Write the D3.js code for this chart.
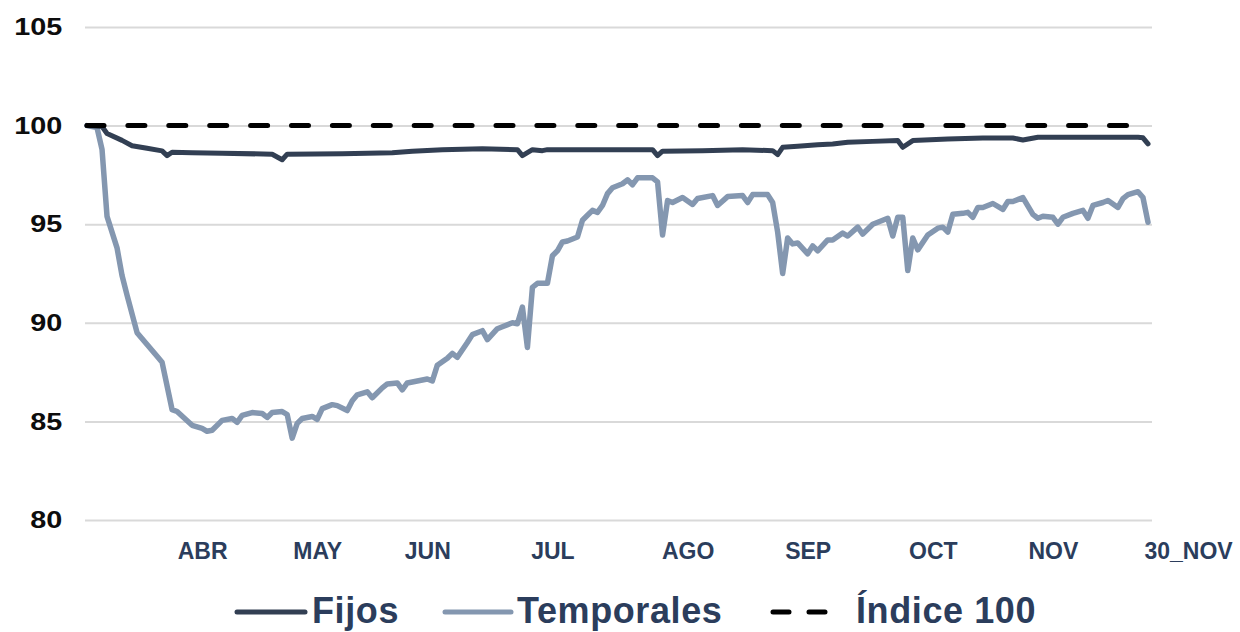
<!DOCTYPE html>
<html>
<head>
<meta charset="utf-8">
<script src="https://cdn.jsdelivr.net/npm/d3@7"></script>
<style>
  html, body { margin: 0; padding: 0; background: #ffffff; }
  svg { display: block; }
</style>
</head>
<body>
<svg id="chart" width="1240" height="632"></svg>
<script>
// ---- data ----
const tickDays = [23, 46, 68, 93, 120, 144, 169, 193, 220];
const tickLabels = ["ABR", "MAY", "JUN", "JUL", "AGO", "SEP", "OCT", "NOV", "30_NOV"];
const yTicks = [80, 85, 90, 95, 100, 105];

const fijosDays = [0, 3, 4, 7, 9, 12, 15, 16, 17, 21, 27, 37, 39, 40, 51, 61, 65, 71, 79, 86, 87, 89, 91, 92, 113, 114, 115, 123, 131, 137, 138, 139, 142, 146, 149, 152, 157, 162, 163, 165, 172, 179, 185, 187, 190, 210, 211, 212];
const fijosVals = [100, 99.95, 99.6, 99.25, 98.98, 98.85, 98.72, 98.48, 98.65, 98.62, 98.6, 98.55, 98.27, 98.55, 98.57, 98.62, 98.7, 98.77, 98.82, 98.78, 98.48, 98.78, 98.73, 98.78, 98.78, 98.48, 98.7, 98.73, 98.77, 98.73, 98.53, 98.9, 98.95, 99.03, 99.07, 99.16, 99.2, 99.24, 98.9, 99.24, 99.32, 99.37, 99.37, 99.27, 99.41, 99.41, 99.38, 99.07];

const tempDays = [0, 2, 3, 4, 6, 7, 8, 10, 12, 14, 15, 16, 17, 18, 21, 23, 24, 25, 27, 29, 30, 31, 33, 35, 36, 37, 39, 40, 41, 42, 43, 45, 46, 47, 49, 50, 52, 53, 54, 56, 57, 59, 60, 62, 63, 64, 66, 68, 69, 70, 72, 73, 74, 76, 77, 79, 80, 82, 83, 85, 86, 87, 88, 89, 90, 92, 93, 94, 95, 96, 98, 99, 100, 101, 102, 103, 104, 105, 107, 108, 109, 110, 112, 113, 114, 115, 116, 117, 119, 121, 122, 125, 126, 128, 131, 132, 133, 136, 137, 138, 139, 140, 141, 142, 144, 145, 146, 148, 149, 151, 152, 154, 155, 157, 160, 161, 162, 163, 164, 165, 166, 168, 170, 171, 172, 173, 175, 176, 177, 178, 179, 181, 183, 184, 185, 187, 189, 190, 191, 193, 194, 195, 197, 199, 200, 201, 203, 204, 206, 207, 208, 210, 211, 212];
const tempVals = [100, 99.9, 98.8, 95.4, 93.8, 92.4, 91.4, 89.5, 88.9, 88.3, 88.0, 86.8, 85.6, 85.5, 84.8, 84.65, 84.5, 84.55, 85.05, 85.15, 84.95, 85.3, 85.45, 85.4, 85.2, 85.45, 85.5, 85.35, 84.15, 84.9, 85.15, 85.25, 85.1, 85.65, 85.85, 85.8, 85.55, 86.05, 86.35, 86.5, 86.2, 86.7, 86.9, 86.95, 86.6, 86.95, 87.05, 87.15, 87.05, 87.85, 88.2, 88.45, 88.25, 89.0, 89.4, 89.6, 89.15, 89.7, 89.8, 90.0, 89.95, 90.8, 88.75, 91.8, 92.0, 92.0, 93.4, 93.65, 94.1, 94.15, 94.35, 95.2, 95.45, 95.7, 95.6, 95.95, 96.55, 96.85, 97.05, 97.25, 97.0, 97.35, 97.35, 97.35, 97.15, 94.45, 96.2, 96.1, 96.35, 96.0, 96.3, 96.45, 95.95, 96.4, 96.45, 96.1, 96.5, 96.5, 96.1, 94.6, 92.5, 94.3, 94.0, 94.05, 93.5, 93.9, 93.65, 94.2, 94.2, 94.55, 94.4, 94.85, 94.5, 95.0, 95.3, 94.4, 95.35, 95.35, 92.65, 94.3, 93.7, 94.45, 94.8, 94.85, 94.6, 95.5, 95.55, 95.6, 95.35, 95.85, 95.85, 96.05, 95.75, 96.15, 96.15, 96.35, 95.5, 95.3, 95.4, 95.35, 95.0, 95.35, 95.55, 95.7, 95.3, 95.95, 96.1, 96.2, 95.85, 96.3, 96.5, 96.65, 96.35, 95.1];

const indexDays = [0, 212];
const indexVals = [100, 100];

const seriesNames = ["Fijos", "Temporales", "Índice 100"];

// ---- layout ----
const svg = d3.select("#chart");
const plotLeft = 85, plotRight = 1152, plotTop = 27, plotBottom = 520;
const FONT = "'Liberation Sans', Arial, sans-serif";

const x = d3.scaleLinear().domain([0, 212]).range([87, 1148]);
const y = d3.scaleLinear().domain([80, 105]).range([plotBottom, plotTop]);

// y axis + grid
const yAxis = svg.append("g")
  .attr("transform", `translate(${plotLeft},0)`)
  .call(d3.axisLeft(y).tickValues(yTicks).tickSize(-(plotRight - plotLeft)).tickPadding(19).tickFormat(d3.format("d")));
yAxis.select(".domain").remove();
yAxis.selectAll(".tick line").attr("stroke", "#d9d9d9").attr("stroke-width", 2);
yAxis.selectAll(".tick text")
  .attr("fill", "#0d0d0d")
  .attr("transform", "scale(1.2,1)")
  .style("font-family", FONT)
  .style("font-weight", "bold")
  .style("font-size", "24px");

// x axis labels
const xAxis = svg.append("g")
  .attr("transform", `translate(0,${plotBottom})`)
  .call(d3.axisBottom(x).tickValues(tickDays).tickSize(0).tickPadding(23).tickFormat((d, i) => tickLabels[i]));
xAxis.select(".domain").remove();
xAxis.selectAll(".tick text")
  .attr("fill", "#2b3d5c")
  .style("font-family", FONT)
  .style("font-weight", "bold")
  .style("font-size", "23px");

const line = d3.line().x(d => x(d[0])).y(d => y(d[1]));

svg.append("path")
  .datum(d3.zip(tempDays, tempVals))
  .attr("d", line)
  .attr("fill", "none")
  .attr("stroke", "#8497b0")
  .attr("stroke-width", 5.5)
  .attr("stroke-linejoin", "round")
  .attr("stroke-linecap", "round");

svg.append("path")
  .datum(d3.zip(fijosDays, fijosVals))
  .attr("d", line)
  .attr("fill", "none")
  .attr("stroke", "#323f53")
  .attr("stroke-width", 5)
  .attr("stroke-linejoin", "round")
  .attr("stroke-linecap", "round");

svg.append("path")
  .datum(d3.zip(indexDays, indexVals))
  .attr("d", line)
  .attr("fill", "none")
  .attr("stroke", "#000000")
  .attr("stroke-width", 5)
  .attr("stroke-dasharray", "17,23.9")
  .attr("stroke-linecap", "round");

// legend
const legend = svg.append("g").style("font-family", FONT);
const legendItems = [
  { name: seriesNames[0], color: "#323f53", dash: null, x0: 237, x1: 305, tx: 312 },
  { name: seriesNames[1], color: "#8497b0", dash: null, x0: 445, x1: 511, tx: 517 },
  { name: seriesNames[2], color: "#000000", dash: "16,20", x0: 773, x1: 829, tx: 856 }
];
const ly = 612;
legendItems.forEach(it => {
  const l = legend.append("line")
    .attr("x1", it.x0).attr("x2", it.x1).attr("y1", ly).attr("y2", ly)
    .attr("stroke", it.color).attr("stroke-width", 5).attr("stroke-linecap", "round");
  if (it.dash) l.attr("stroke-dasharray", it.dash);
  legend.append("text")
    .attr("x", it.tx).attr("y", 623)
    .attr("fill", "#2b3d5c")
    .style("font-size", "36px")
    .style("font-weight", "bold")
    .style("letter-spacing", "0.6px")
    .text(it.name);
});
</script>
</body>
</html>
